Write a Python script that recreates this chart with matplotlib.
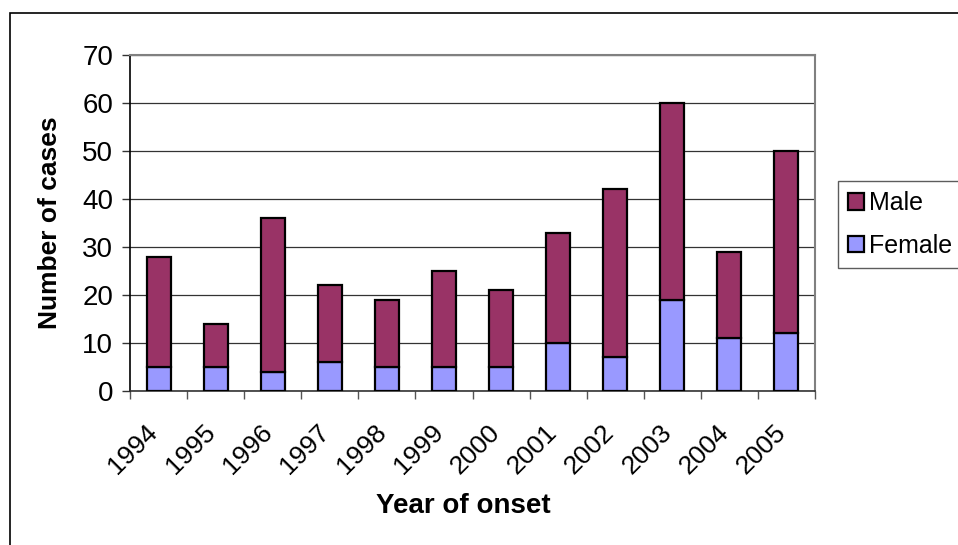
import numpy as np
import matplotlib.pyplot as plt
import matplotlib.transforms as mtransforms
from matplotlib.patches import Rectangle

plt.rcParams['font.family'] = ['Liberation Sans', 'DejaVu Sans']

# data
years = ["1994", "1995", "1996", "1997", "1998", "1999",
         "2000", "2001", "2002", "2003", "2004", "2005"]
female = [5, 5, 4, 6, 5, 5, 5, 10, 7, 19, 11, 12]
male = [23, 9, 32, 16, 14, 20, 16, 23, 35, 41, 18, 38]

x = np.arange(len(years))

fig = plt.figure(figsize=(9.58, 5.45), dpi=100)
ax = fig.add_axes([130/958, 1 - 391/545, 685/958, 336/545])

# outer chart border (cut off at right and bottom like the original)
fig.patches.append(Rectangle((10/958, -0.2), 1.2, 1.2 - 13/545,
                             transform=fig.transFigure, fill=False,
                             edgecolor="black", linewidth=1.2))

ax.bar(x, female, width=0.42, color="#9999FF", edgecolor="black",
       linewidth=1.6, label="Female", zorder=3)
ax.bar(x, male, width=0.42, bottom=female, color="#993366",
       edgecolor="black", linewidth=1.6, label="Male", zorder=3)

ax.set_xlim(-0.5, len(years) - 0.5)
ax.set_ylim(0, 70)
ax.set_yticks(range(0, 71, 10))
ax.yaxis.grid(True, color="#333333", linewidth=0.9, zorder=0)
ax.set_axisbelow(True)

# category boundary ticks, labels at centres
ax.set_xticks(np.arange(-0.5, len(years)), minor=True)
ax.set_xticks(x)
ax.set_xticklabels(years, rotation=45, ha="right", rotation_mode="anchor")
ax.tick_params(axis="x", which="major", length=0, pad=21, labelsize=19)
ax.tick_params(axis="x", which="minor", length=6, width=1.0, color="#555555")
ax.tick_params(axis="y", length=6, width=1.0, color="#333333", labelsize=20, pad=6)

shift = mtransforms.ScaledTranslation(-13/100, 0, fig.dpi_scale_trans)
for lab in ax.get_xticklabels():
    lab.set_transform(lab.get_transform() + shift)

for s in ["top", "right"]:
    ax.spines[s].set_color("#808080")
    ax.spines[s].set_linewidth(1.5)
ax.spines["left"].set_color("black")
ax.spines["left"].set_linewidth(1.2)
ax.spines["bottom"].set_color("#333333")
ax.spines["bottom"].set_linewidth(1.2)

ax.set_ylabel("Number of cases", fontsize=19, fontweight="bold")
ax.yaxis.set_label_coords(-0.099, 0.5)
ax.set_xlabel("Year of onset", fontsize=20, fontweight="bold")
ax.xaxis.set_label_coords(0.486, -0.305)

handles, labels = ax.get_legend_handles_labels()
leg = fig.legend(handles[::-1], labels[::-1], loc="upper left",
                 bbox_to_anchor=(838/958, 1 - 181/545), fontsize=18,
                 frameon=True, fancybox=False, handlelength=0.65,
                 handleheight=0.65, handletextpad=0.2, borderpad=0.4,
                 labelspacing=0.75, borderaxespad=0)
leg.get_frame().set_edgecolor("#333333")
leg.get_frame().set_linewidth(1.0)

fig.savefig("out.png", dpi=100)
